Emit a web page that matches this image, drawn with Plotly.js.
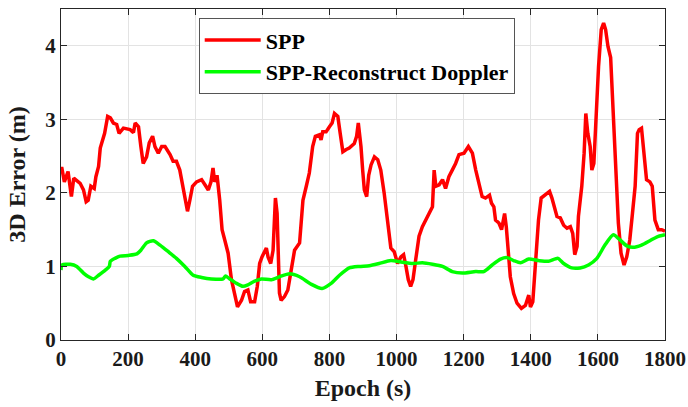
<!DOCTYPE html>
<html>
<head>
<meta charset="utf-8">
<script src="https://cdn.plot.ly/plotly-3.0.1.min.js"></script>
<style>
html,body{margin:0;padding:0;background:#fff;}
#chart{width:688px;height:407px;}
</style>
</head>
<body>
<div id="chart"></div>
<script>
// SPP 3D error (red)
const sppEpoch = [0,2,10,21,31,38,57,67,75,81,89,99,104,112,117,130,139,147,156,166,173,186,206,216,221,231,238,245,255,263,273,280,290,300,310,325,334,344,354,364,372,377,384,392,404,419,429,439,447,453,458,465,473,480,488,498,508,518,526,538,547,557,565,577,585,592,599,612,617,625,632,639,644,651,656,666,676,686,696,711,721,731,740,750,758,770,775,780,790,800,808,815,825,832,840,850,859,874,881,886,894,899,904,911,917,924,934,944,953,963,973,983,993,1003,1013,1021,1028,1035,1042,1049,1057,1067,1077,1087,1097,1107,1112,1117,1127,1137,1146,1156,1166,1176,1186,1201,1214,1226,1236,1245,1255,1265,1277,1283,1290,1295,1305,1313,1317,1322,1327,1332,1339,1349,1359,1372,1384,1394,1399,1406,1414,1423,1431,1443,1456,1463,1471,1478,1488,1498,1508,1518,1525,1531,1538,1542,1552,1559,1564,1570,1577,1582,1588,1594,1602,1610,1617,1623,1630,1638,1644,1653,1661,1669,1678,1686,1695,1703,1711,1718,1723,1730,1737,1745,1755,1762,1770,1780,1790,1800];
const sppError = [2.31,2.35,2.15,2.29,1.95,2.2,2.13,2.04,1.88,1.9,2.09,2.06,2.22,2.36,2.61,2.81,3.04,3.02,2.95,2.93,2.81,2.88,2.86,2.82,2.95,2.9,2.63,2.4,2.49,2.68,2.77,2.63,2.54,2.63,2.63,2.52,2.43,2.43,2.31,2.06,1.81,1.75,1.9,2.09,2.15,2.18,2.11,2.04,2.15,2.34,2.15,2.24,1.9,1.5,1.36,1.18,0.82,0.59,0.45,0.54,0.66,0.68,0.52,0.52,0.73,1.04,1.13,1.25,1.13,1.04,1.22,1.93,1.72,0.64,0.54,0.59,0.68,0.95,1.22,1.32,1.9,2.09,2.27,2.63,2.77,2.79,2.72,2.83,2.83,2.9,2.95,3.08,3.04,2.81,2.56,2.59,2.61,2.67,2.77,2.95,2.63,2.31,2.04,1.95,2.24,2.38,2.49,2.45,2.31,2.0,1.59,1.25,1.2,1.04,1.13,1.16,1.0,0.82,0.73,0.82,1.09,1.41,1.54,1.63,1.72,1.81,2.31,2.09,2.11,2.18,2.06,2.22,2.31,2.4,2.52,2.54,2.63,2.54,2.31,2.15,1.95,1.93,1.97,1.86,1.81,1.63,1.59,1.5,1.63,1.72,1.54,1.18,0.86,0.63,0.5,0.43,0.47,0.61,0.45,0.52,1.0,1.63,1.93,1.97,2.02,1.93,1.81,1.68,1.66,1.56,1.52,1.54,1.45,1.16,1.27,1.68,2.09,2.54,3.08,2.81,2.63,2.31,2.4,3.08,3.72,4.22,4.31,4.22,3.99,3.84,3.31,2.49,1.59,1.18,1.02,1.13,1.36,1.72,2.09,2.81,2.86,2.88,2.54,2.18,2.15,2.09,1.63,1.5,1.5,1.48];

// SPP-Reconstruct Doppler 3D error (green)
const rdEpoch = [0,3,28,47,67,82,97,112,132,144,147,161,176,201,226,238,255,275,295,320,344,369,394,419,448,483,490,503,523,542,557,577,597,627,651,681,711,745,778,805,830,859,889,919,948,983,1013,1049,1077,1107,1137,1166,1196,1236,1260,1285,1310,1329,1349,1369,1394,1423,1453,1481,1498,1522,1547,1572,1597,1621,1646,1666,1686,1705,1730,1755,1775,1800];
const rdError = [0.95,1.02,1.03,1.0,0.91,0.86,0.83,0.88,0.95,1.0,1.07,1.11,1.14,1.15,1.17,1.22,1.32,1.35,1.29,1.2,1.11,1.0,0.88,0.85,0.83,0.83,0.87,0.83,0.77,0.73,0.75,0.8,0.83,0.82,0.86,0.9,0.86,0.76,0.7,0.77,0.88,0.98,1.0,1.01,1.04,1.08,1.06,1.04,1.05,1.03,1.0,0.93,0.91,0.93,0.93,1.02,1.1,1.12,1.08,1.05,1.1,1.08,1.07,1.11,1.04,0.98,0.98,1.02,1.11,1.29,1.43,1.36,1.28,1.26,1.29,1.35,1.4,1.43];

const seriesNames = ['SPP', 'SPP-Reconstruct Doppler'];
const xTicks = [0,200,400,600,800,1000,1200,1400,1600,1800];
const yTicks = [0,1,2,3,4];

const fontFam = '"Liberation Serif", "Times New Roman", serif';
const axisCol = '#262626';

const traces = [
  {x: sppEpoch, y: sppError, name: seriesNames[0], mode: 'lines', type: 'scatter',
   line: {color: '#ff0000', width: 3.5}},
  {x: rdEpoch, y: rdError, name: seriesNames[1], mode: 'lines', type: 'scatter',
   line: {color: '#00ff00', width: 3.5, shape: 'spline', smoothing: 0.6}}
];

const layout = {
  width: 688, height: 407,
  margin: {l: 61, r: 23, t: 9, b: 67},
  paper_bgcolor: '#ffffff', plot_bgcolor: '#ffffff',
  font: {family: fontFam, color: '#000'},
  showlegend: true,
  legend: {
    x: 0.228, y: 0.972, xanchor: 'left', yanchor: 'top',
    bgcolor: '#ffffff', bordercolor: '#555555', borderwidth: 1,
    font: {family: fontFam, size: 22, color: '#000', weight: 'bold'},
    tracegroupgap: 0, itemwidth: 56
  },
  xaxis: {
    range: [0, 1800], tickvals: xTicks, ticktext: xTicks.map(String),
    showgrid: true, gridcolor: '#e3e3e3', gridwidth: 1, zeroline: false,
    showline: true, linecolor: axisCol, linewidth: 1, mirror: 'ticks',
    ticks: 'inside', ticklen: 6, tickcolor: axisCol,
    tickfont: {family: fontFam, size: 21, color: '#1a1a1a', weight: 'bold'},
    title: {text: 'Epoch (s)', font: {family: fontFam, size: 24, color: '#1a1a1a', weight: 'bold'}, standoff: 8}
  },
  yaxis: {
    range: [0, 4.5], tickvals: yTicks, ticktext: yTicks.map(String),
    showgrid: true, gridcolor: '#e3e3e3', gridwidth: 1, zeroline: false,
    showline: true, linecolor: axisCol, linewidth: 1, mirror: 'ticks',
    ticks: 'inside', ticklen: 6, tickcolor: axisCol,
    tickfont: {family: fontFam, size: 21, color: '#1a1a1a', weight: 'bold'},
    title: {text: '3D Error (m)', font: {family: fontFam, size: 24, color: '#1a1a1a', weight: 'bold'}, standoff: 12}
  }
};

Plotly.newPlot('chart', traces, layout, {displayModeBar: false, staticPlot: true});
</script>
</body>
</html>
